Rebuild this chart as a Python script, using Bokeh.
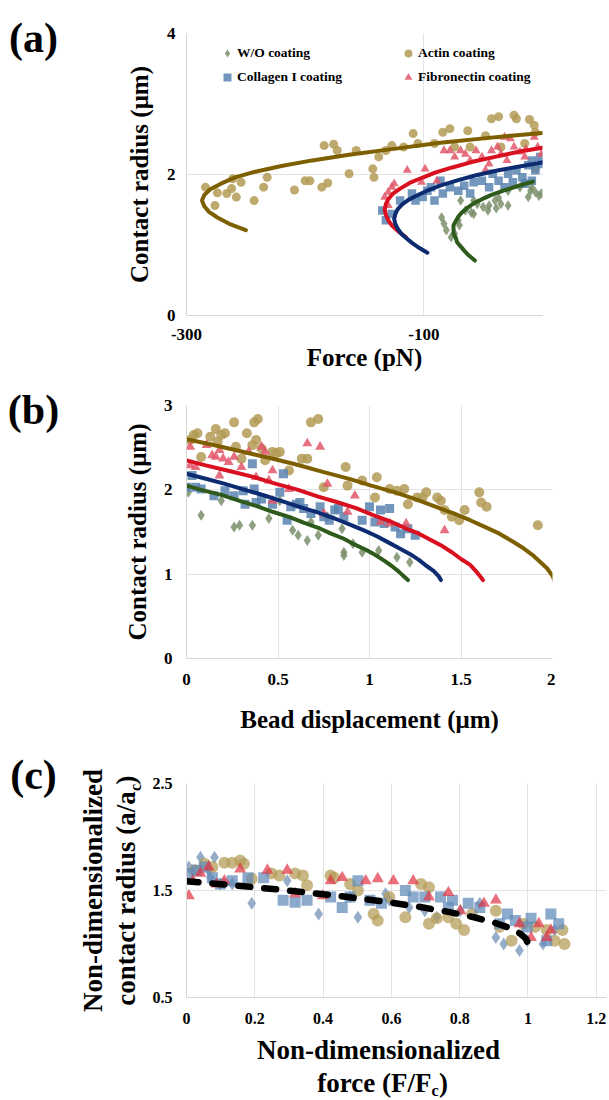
import math
from bokeh.plotting import figure
from bokeh.models import Label, Legend, LegendItem, FixedTicker, Range1d, LinearAxis
from bokeh.layouts import column
from bokeh.embed import file_html
from bokeh.resources import INLINE

FONT = "Liberation Serif"

# ---------------- Panel (a): contact radius vs force ----------------
a_wo_F = [-85,-83,-81,-77,-74,-70,-69,-65,-60,-58,-55,-50,-46,-45,-40,-39,-35,-29,-58,-37,-29,-19,-15,-10,-9,-6,-3,-1,-12,-71]
a_wo_r = [1.39,1.30,1.21,1.11,1.16,1.28,1.63,1.49,1.46,1.44,1.58,1.54,1.49,1.56,1.63,1.52,1.58,1.56,1.63,1.67,1.77,1.82,1.89,1.77,1.82,1.75,1.70,1.73,1.68,1.35]
a_actin_F = [-284,-276,-274,-266,-262,-258,-261,-254,-243,-235,-232,-209,-200,-196,-186,-181,-184,-176,-173,-163,-157,-143,-142,-138,-132,-127,-109,-105,-84,-78,-63,-61,-48,-43,-37,-24,-22,-11,-7,-6,-35,-15,-117,-91,-74,-6]
a_actin_r = [1.82,1.56,1.74,1.73,1.80,1.68,1.94,1.89,1.63,1.82,1.96,1.78,1.91,1.91,1.82,1.88,2.41,2.43,2.34,2.01,2.34,2.08,1.96,2.25,2.34,2.41,2.58,2.44,2.60,2.65,2.62,2.39,2.55,2.79,2.82,2.84,2.79,2.78,2.70,2.60,2.39,2.44,2.39,2.44,2.39,2.08]
a_col_F = [-135,-132,-127,-120,-110,-107,-101,-97,-94,-91,-86,-84,-78,-71,-66,-61,-58,-51,-45,-42,-37,-32,-29,-22,-17,-12,-9,-6,-1,-2,-15,-25,-9]
a_col_r = [1.49,1.35,1.44,1.63,1.73,1.63,1.68,1.77,1.82,1.63,1.91,1.73,1.82,1.77,1.84,1.73,1.89,1.91,1.82,2.01,1.91,1.82,2.01,2.06,1.96,2.13,2.20,2.06,2.15,2.25,1.87,1.89,1.91]
a_fib_F = [-133,-130,-127,-125,-130,-114,-102,-99,-89,-83,-78,-74,-69,-65,-61,-56,-51,-48,-43,-38,-35,-32,-27,-24,-19,-14,-7,-4,-1,-15,-45,-30]
a_fib_r = [1.68,1.75,1.82,1.87,1.56,2.06,1.89,2.08,1.91,2.34,2.34,2.25,2.34,2.29,2.20,2.34,2.25,2.06,2.34,2.39,2.29,2.53,2.51,2.39,2.32,2.36,2.53,2.39,2.29,2.25,2.15,2.20]

a_fit_actin_F = [-250,-264,-274,-281,-285,-287,-285,-280,-271,-259,-242,-220,-194,-163,-127,-86,-39,0]
a_fit_actin_r = [1.21,1.30,1.39,1.47,1.55,1.63,1.71,1.79,1.87,1.96,2.04,2.12,2.20,2.28,2.36,2.45,2.53,2.59]
a_fit_fib_F = [-115,-122,-127,-130,-132,-133,-132,-130,-126,-120,-112,-102,-90,-76,-59,-40,-18,0]
a_fit_fib_r = [1.11,1.20,1.28,1.35,1.43,1.50,1.58,1.65,1.73,1.80,1.88,1.95,2.03,2.10,2.18,2.25,2.33,2.38]
a_fit_col_F = [-97,-104,-110,-115,-119,-122,-124,-125,-124,-122,-118,-113,-105,-96,-85,-71,-56,-37,-17,0]
a_fit_col_r = [0.89,0.96,1.03,1.10,1.16,1.23,1.30,1.37,1.44,1.51,1.58,1.64,1.71,1.78,1.85,1.92,1.99,2.06,2.12,2.17]
a_fit_wo_F = [-57,-62,-66,-69,-72,-73,-75,-75,-75,-73,-71,-68,-63,-58,-51,-43,-33,-22,-8]
a_fit_wo_r = [0.78,0.85,0.92,0.98,1.04,1.10,1.16,1.22,1.28,1.34,1.40,1.46,1.53,1.59,1.65,1.71,1.77,1.83,1.90]

a_xticks = [-300, -100, 100]
a_xtick_labels = {-300: "-300", -100: "-100", 100: "100"}
a_yticks = [0, 2, 4]
a_ytick_labels = {0: "0", 2: "2", 4: "4"}

# ---------------- Panel (b): contact radius vs bead displacement ----------------
b_actin_d = [0.02,0.04,0.06,0.08,0.13,0.16,0.17,0.19,0.21,0.26,0.27,0.30,0.33,0.36,0.37,0.39,0.38,0.41,0.43,0.47,0.49,0.51,0.56,0.63,0.66,0.68,0.72,0.75,0.87,0.88,0.96,1.03,1.04,1.11,1.15,1.19,1.21,1.26,1.29,1.31,1.37,1.39,1.41,1.45,1.49,1.52,1.60,1.61,1.64,1.92]
b_actin_r = [2.59,2.65,2.67,2.39,2.63,2.72,2.57,2.65,2.67,2.80,2.51,2.37,2.67,2.53,2.80,2.84,2.59,2.49,2.35,2.45,2.43,2.45,2.23,2.37,2.37,2.80,2.84,2.03,2.27,2.05,2.11,1.91,2.15,2.01,1.99,2.01,1.83,1.91,1.91,1.97,1.91,1.87,1.76,1.68,1.64,1.76,1.97,1.85,1.80,1.58]
b_fib_d = [0.02,0.02,0.05,0.11,0.14,0.16,0.18,0.20,0.18,0.23,0.26,0.30,0.34,0.41,0.43,0.47,0.38,0.45,0.47,0.56,0.66,0.73,0.77,0.75,0.88,0.92,1.06,1.11,1.20,1.41]
b_fib_r = [2.51,2.29,2.27,2.53,2.41,2.39,2.47,2.37,2.17,2.33,2.39,2.27,2.45,2.51,2.45,2.23,2.15,2.11,1.87,2.01,2.55,2.51,2.07,1.72,1.74,1.93,1.62,1.60,1.60,1.52]
b_col_d = [0.00,0.03,0.05,0.08,0.15,0.21,0.26,0.31,0.32,0.36,0.37,0.38,0.41,0.47,0.51,0.53,0.55,0.57,0.60,0.62,0.64,0.68,0.73,0.75,0.78,0.81,0.83,0.86,0.96,1.00,1.03,1.06,1.08,1.11,1.14,1.17,1.21,1.25]
b_col_r = [2.03,2.17,2.03,2.01,1.93,1.99,1.93,1.99,1.83,2.31,2.01,1.85,1.89,1.83,1.97,2.19,1.64,1.80,1.83,1.85,1.78,1.72,1.80,1.68,1.64,1.76,1.78,1.68,1.64,1.80,1.62,1.76,1.60,1.78,1.56,1.48,1.54,1.46]
b_wo_d = [0.01,0.08,0.19,0.26,0.29,0.36,0.45,0.51,0.61,0.66,0.72,0.77,0.85,0.86,0.86,0.91,0.96,1.05,1.15,1.22,0.68,0.58]
b_wo_r = [1.97,1.70,1.87,1.56,1.58,1.58,1.66,1.87,1.46,1.40,1.46,1.68,1.54,1.26,1.22,1.36,1.26,1.28,1.20,1.14,1.62,1.52]

b_fit_actin_d = [0,0.13,0.29,0.45,0.60,0.75,0.89,1.01,1.14,1.25,1.36,1.46,1.55,1.63,1.71,1.78,1.84,1.89,1.93,1.97,2.00,2.01]
b_fit_actin_r = [2.60,2.54,2.46,2.38,2.30,2.21,2.13,2.05,1.97,1.89,1.80,1.72,1.64,1.56,1.48,1.39,1.31,1.23,1.15,1.07,0.98,0.93]
b_fit_fib_d = [0,0.105,0.24,0.37,0.49,0.61,0.72,0.83,0.93,1.02,1.11,1.19,1.27,1.33,1.40,1.45,1.50,1.55,1.58,1.61,1.62]
b_fit_fib_r = [2.35,2.29,2.22,2.15,2.07,2.00,1.92,1.85,1.78,1.70,1.63,1.55,1.48,1.41,1.33,1.26,1.18,1.11,1.04,0.96,0.93]
b_fit_col_d = [0,0.09,0.21,0.32,0.43,0.53,0.63,0.72,0.81,0.89,0.97,1.04,1.10,1.16,1.22,1.27,1.31,1.35,1.38,1.39]
b_fit_col_r = [2.19,2.14,2.07,2.00,1.93,1.86,1.79,1.73,1.66,1.59,1.52,1.45,1.38,1.31,1.24,1.17,1.10,1.04,0.97,0.93]
b_fit_wo_d = [0,0.08,0.19,0.29,0.38,0.47,0.56,0.64,0.72,0.79,0.86,0.92,0.98,1.03,1.08,1.12,1.16,1.19,1.21]
b_fit_wo_r = [2.05,2.00,1.94,1.87,1.81,1.74,1.68,1.61,1.55,1.48,1.42,1.35,1.29,1.23,1.16,1.10,1.03,0.97,0.93]

b_xticks = [0, 0.5, 1, 1.5, 2]
b_xtick_labels = {0: "0", 0.5: "0.5", 1: "1", 1.5: "1.5", 2: "2"}
b_yticks = [0, 1, 2, 3]
b_ytick_labels = {0: "0", 1: "1", 2: "2", 3: "3"}

# ---------------- Panel (c): non-dimensionalized ----------------
c_actin_x = [0.024,0.053,0.076,0.111,0.134,0.157,0.168,0.191,0.249,0.272,0.318,0.341,0.353,0.422,0.433,0.479,0.502,0.548,0.560,0.594,0.641,0.687,0.710,0.710,0.733,0.767,0.790,0.813,0.836,0.906,0.917,0.952,0.986,1.021,1.055,1.078,1.101,1.107]
c_actin_y = [1.69,1.75,1.72,1.76,1.76,1.78,1.75,1.61,1.66,1.64,1.66,1.64,1.55,1.64,1.62,1.56,1.50,1.28,1.22,1.44,1.25,1.56,1.53,1.19,1.24,1.25,1.19,1.13,1.28,1.31,1.16,1.03,1.19,1.16,1.13,1.03,1.13,1.00]
c_fib_x = [0.007,0.018,0.041,0.065,0.088,0.111,0.157,0.237,0.295,0.318,0.399,0.422,0.456,0.525,0.560,0.606,0.664,0.710,0.767,0.802,0.871,0.906,0.975,1.009,1.032,1.055,1.067]
c_fib_y = [1.45,1.59,1.66,1.72,1.56,1.59,1.70,1.69,1.69,1.47,1.45,1.59,1.62,1.59,1.61,1.59,1.59,1.44,1.48,1.31,1.38,1.41,1.19,1.06,1.19,1.06,1.13]
c_col_x = [0.007,0.030,0.053,0.076,0.099,0.134,0.180,0.226,0.283,0.318,0.353,0.422,0.456,0.479,0.502,0.537,0.571,0.641,0.664,0.698,0.744,0.767,0.779,0.825,0.859,0.917,0.940,0.963,0.998,1.009,1.067,1.090,1.055]
c_col_y = [1.66,1.69,1.72,1.62,1.56,1.59,1.62,1.62,1.41,1.39,1.41,1.44,1.34,1.44,1.59,1.41,1.38,1.50,1.44,1.44,1.44,1.34,1.41,1.38,1.34,1.19,1.28,1.22,1.16,1.24,1.28,1.19,1.03]
c_wo_x = [0.007,0.041,0.065,0.070,0.099,0.082,0.134,0.191,0.295,0.387,0.479,0.502,0.583,0.594,0.652,0.698,0.733,0.802,0.859,0.906,0.929,0.975,0.998,1.044,1.078]
c_wo_y = [1.72,1.81,1.69,1.62,1.56,1.81,1.56,1.38,1.59,1.28,1.44,1.25,1.47,1.41,1.34,1.31,1.25,1.31,1.38,1.06,1.00,0.94,1.03,1.00,1.13]
c_fit_x = [0,0.136,0.299,0.444,0.569,0.677,0.767,0.842,0.901,0.946,0.976,0.994,1.0]
c_fit_y = [1.587,1.55,1.5,1.45,1.4,1.35,1.3,1.25,1.2,1.15,1.1,1.05,1.0]

c_xticks = [0, 0.2, 0.4, 0.6, 0.8, 1, 1.2]
c_xtick_labels = {0: "0", 0.2: "0.2", 0.4: "0.4", 0.6: "0.6", 0.8: "0.8", 1: "1", 1.2: "1.2"}
c_yticks = [0.5, 1.5, 2.5]
c_ytick_labels = {0.5: "0.5", 1.5: "1.5", 2.5: "2.5"}

series_names = ["W/O coating", "Actin coating", "Collagen I coating", "Fibronectin coating"]

# ---------------- styles ----------------
PT = {"wo": "#7b8f6b", "actin": "#b39b55", "col": "#5a84b2", "fib": "#e2566a"}
LN = {"wo": "#2e5b1b", "actin": "#7e5f00", "col": "#0c2b70", "fib": "#d8101f"}
PTC = {"wo": "#6d8db6", "actin": "#b39b55", "col": "#5f89b8", "fib": "#e03848"}
GRID = "#e3e3e3"
LEFT = 186
RIGHT = 3


def base_fig(w, h, xr, yr, bt, bb, xt, xl, yt, yl, x_so, y_so, tsize):
    p = figure(width=w, height=h, x_range=Range1d(*xr), y_range=Range1d(*yr),
               output_backend="svg", toolbar_location=None,
               min_border_left=LEFT, min_border_top=bt, min_border_bottom=bb,
               min_border_right=RIGHT)
    p.outline_line_color = None
    p.background_fill_color = "white"
    p.border_fill_color = "white"
    for ax, ticks, labs, so in ((p.xaxis[0], xt, xl, x_so), (p.yaxis[0], yt, yl, y_so)):
        ax.ticker = FixedTicker(ticks=ticks)
        ax.major_label_overrides = labs
        ax.axis_line_color = "#d6d6d6"
        ax.axis_line_width = 1
        ax.major_tick_line_color = None
        ax.minor_tick_line_color = None
        ax.major_tick_out = 0
        ax.major_label_text_font = FONT
        ax.major_label_text_font_style = "bold"
        ax.major_label_text_font_size = tsize
        ax.major_label_text_color = "black"
        ax.major_label_standoff = so
        ax.axis_label_text_font = FONT
        ax.axis_label_text_font_style = "bold"
        ax.axis_label_text_color = "black"
    p.xgrid[0].ticker = FixedTicker(ticks=xt)
    p.ygrid[0].ticker = FixedTicker(ticks=yt)
    for g in (p.xgrid[0], p.ygrid[0]):
        g.grid_line_color = GRID
        g.grid_line_width = 1
    return p


def set_title(ax, text, size, standoff):
    ax.axis_label = text
    ax.axis_label_text_font_size = size
    ax.axis_label_standoff = standoff


def lab(p, side, x, y, text, size, angle=0.0, align="center", baseline="middle"):
    p.add_layout(Label(x=x, y=y, text=text, text_font=FONT, text_font_style="bold",
                       text_font_size=size, angle=angle, text_align=align,
                       text_baseline=baseline, text_color="black"), side)


def scatter4(p, data, colors, sizes, alpha):
    rs = {}
    (wx, wy), (ax_, ay), (cx, cy), (fx, fy) = data
    rs["wo"] = p.scatter(wx, wy, marker="diamond", size=sizes[0],
                         fill_color=colors["wo"], fill_alpha=alpha, line_color=None)
    rs["actin"] = p.scatter(ax_, ay, marker="circle", size=sizes[1],
                            fill_color=colors["actin"], fill_alpha=alpha, line_color=None)
    rs["col"] = p.scatter(cx, cy, marker="square", size=sizes[2],
                          fill_color=colors["col"], fill_alpha=alpha, line_color=None)
    rs["fib"] = p.scatter(fx, fy, marker="triangle", size=sizes[3],
                          fill_color=colors["fib"], fill_alpha=alpha, line_color=None)
    return rs


# ---------------- panel a ----------------
pa = base_fig(545, 375, (-300, 0), (0, 4), 33, 60,
              a_xticks, a_xtick_labels, a_yticks, a_ytick_labels, 13, 11, "17px")
ra = scatter4(pa, [(a_wo_F, a_wo_r), (a_actin_F, a_actin_r), (a_col_F, a_col_r), (a_fib_F, a_fib_r)],
              PT, (10.5, 9, 8.5, 9), 0.85)
for F, r, k in ((a_fit_actin_F, a_fit_actin_r, "actin"), (a_fit_fib_F, a_fit_fib_r, "fib"),
                (a_fit_col_F, a_fit_col_r, "col"), (a_fit_wo_F, a_fit_wo_r, "wo")):
    pa.line(F, r, line_color=LN[k], line_width=4, line_cap="round")


def mk_legend(items, loc):
    lg = Legend(items=items, location=loc, orientation="vertical")
    lg.background_fill_alpha = 0
    lg.border_line_color = None
    lg.padding = 0
    lg.margin = 0
    lg.spacing = 4
    lg.glyph_width = 20
    lg.glyph_height = 20
    lg.label_height = 20
    lg.label_standoff = 0
    lg.label_text_font = FONT
    lg.label_text_font_style = "bold"
    lg.label_text_font_size = "13.5px"
    lg.label_text_color = "black"
    return lg


pa.add_layout(mk_legend([LegendItem(label=series_names[0], renderers=[ra["wo"]]),
                         LegendItem(label=series_names[2], renderers=[ra["col"]])], (31, 228)))
pa.add_layout(mk_legend([LegendItem(label=series_names[1], renderers=[ra["actin"]]),
                         LegendItem(label=series_names[3], renderers=[ra["fib"]])], (212, 228)))

set_title(pa.yaxis[0], "Contact radius (μm)", "25px", 11)
set_title(pa.xaxis[0], "Force (pN)", "25px", 1)
lab(pa, "left", -428.9, 3.943, "(a)", "42px")

# ---------------- panel b ----------------
pb = base_fig(555, 370, (0, 2), (0, 3), 30, 87,
              b_xticks, b_xtick_labels, b_yticks, b_ytick_labels, 15, 14, "17px")
scatter4(pb, [(b_wo_d, b_wo_r), (b_actin_d, b_actin_r), (b_col_d, b_col_r), (b_fib_d, b_fib_r)],
         PT, (11, 10, 9, 10), 0.85)
for d, r, k in ((b_fit_actin_d, b_fit_actin_r, "actin"), (b_fit_fib_d, b_fit_fib_r, "fib"),
                (b_fit_col_d, b_fit_col_r, "col"), (b_fit_wo_d, b_fit_wo_r, "wo")):
    pb.line(d, r, line_color=LN[k], line_width=4, line_cap="round")

set_title(pb.yaxis[0], "Contact radius (μm)", "25px", 10)
set_title(pb.xaxis[0], "Bead displacement (μm)", "25px", 18)
lab(pb, "left", -0.836, 2.941, "(b)", "42px")

# ---------------- panel c ----------------
pc = base_fig(609, 354, (0, 1.23), (0.5, 2.5), 38, 102,
              c_xticks, c_xtick_labels, c_yticks, c_ytick_labels, 15, 14, "16px")
scatter4(pc, [(c_wo_x, c_wo_y), (c_actin_x, c_actin_y), (c_col_x, c_col_y), (c_fib_x, c_fib_y)],
         PTC, (13, 12, 11, 12), 0.72)
pc.line(c_fit_x, c_fit_y, line_color="black", line_width=6.5, line_dash="12 14", line_cap="round")

set_title(pc.yaxis[0], "contact radius (a/a )", "27px", 9)
outer = LinearAxis(ticker=FixedTicker(ticks=[]), axis_label="Non-dimensionalized",
                   axis_line_color=None, major_tick_line_color=None, minor_tick_line_color=None,
                   major_tick_out=0, major_label_standoff=0, axis_label_standoff=0,
                   axis_label_text_font=FONT, axis_label_text_font_style="bold",
                   axis_label_text_font_size="27px", axis_label_text_color="black")
pc.add_layout(outer, "left")
lab(pc, "left", -0.448, 2.584, "(c)", "42px")
lab(pc, "above", -0.1494, 2.430, "c", "16px", angle=math.pi / 2, align="left")
lab(pc, "below", 0.5623, 0.014, "Non-dimensionalized", "27px")
lab(pc, "below", 0.7175, -0.3037, "force (F/F", "27px", align="right")
lab(pc, "left", 0.7175, -0.3692, "c", "16px", align="left")
lab(pc, "left", 0.7395, -0.3037, ")", "27px", align="left")

layout = column(pa, pb, pc, spacing=0)
open("out.html", "w").write(file_html(layout, INLINE))
